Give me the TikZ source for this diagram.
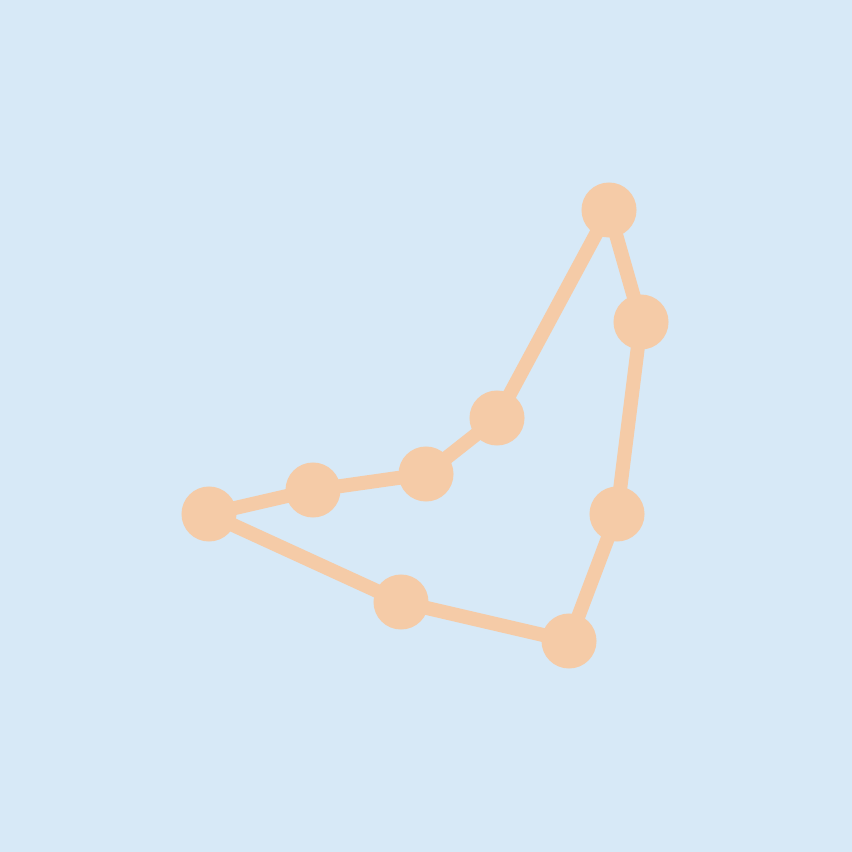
\documentclass[tikz,border=0pt]{standalone}
\usepackage{xcolor}
\usetikzlibrary{backgrounds}

\definecolor{skyblue}{HTML}{D7E9F7}
\definecolor{peach}{HTML}{F5CBA7}

\begin{document}
\begin{tikzpicture}[
  x=0.01cm, y=-0.01cm,
  star/.style={circle, fill=peach, inner sep=0pt, minimum size=0.55cm},
  link/.style={peach, line width=0.14cm, line cap=round}
]
\node[star] (s1) at (609,210) {};
\node[star] (s2) at (641,322) {};
\node[star] (s3) at (617,514) {};
\node[star] (s4) at (569,641) {};
\node[star] (s5) at (401,602) {};
\node[star] (s6) at (209,514) {};
\node[star] (s7) at (313,490) {};
\node[star] (s8) at (426,474) {};
\node[star] (s9) at (497,418) {};

\begin{scope}[on background layer]
\fill[skyblue] (0,0) rectangle (852,852);
\draw[link] (s1.center) -- (s2.center) -- (s3.center) -- (s4.center) -- (s5.center)
  -- (s6.center) -- (s7.center) -- (s8.center) -- (s9.center) -- (s1.center);
\end{scope}
\end{tikzpicture}
\end{document}
